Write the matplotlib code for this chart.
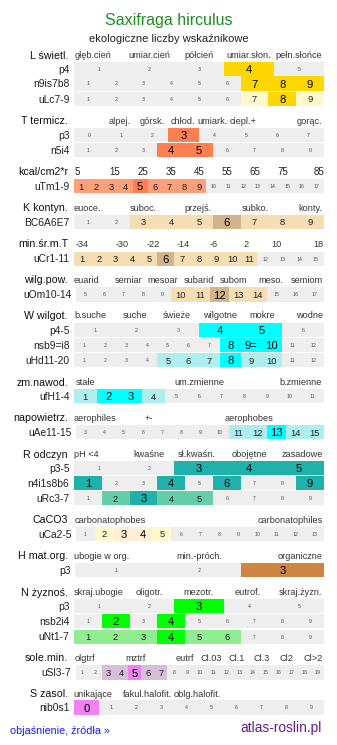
import matplotlib
matplotlib.use("Agg")
import matplotlib.pyplot as plt
import numpy as np

plt.rcParams['font.family'] = ['Liberation Sans', 'DejaVu Sans']

# ---------------- data ----------------
TITLE = "Saxifraga hirculus"
SUBTITLE = "ekologiczne liczby wskaźnikowe"

# section headers and their category labels
SECTIONS = ["L świetl.", "T termicz.", "kcal/cm2*r", "K kontyn.", "min.śr.m.T",
            "wilg.pow.", "W wilgot.", "zm.nawod.", "napowietrz.", "R odczyn",
            "CaCO3", "H mat.org.", "N żyznoś.", "sole.min.", "S zasol."]
CATS = [
    ["głęb.cień", "umiar.cień", "półcień", "umiar.słon.", "pełn.słońce"],
    ["alpej.", "górsk.", "chłod.", "umiark.", "ciepl.+", "gorąc."],
    ["5", "15", "25", "35", "45", "55", "65", "75", "85"],
    ["euoce.", "suboc.", "przejś.", "subko.", "konty."],
    ["-34", "-30", "-22", "-14", "-6", "2", "10", "18"],
    ["euarid", "semiar", "mesoar", "subarid", "subom", "meso.", "semiom"],
    ["b.suche", "suche", "świeże", "wilgotne", "mokre", "wodne"],
    ["stałe", "um.zmienne", "b.zmienne"],
    ["aerophiles", "+-", "aerophobes"],
    ["pH <4", "kwaśne", "sł.kwaśn.", "obojętne", "zasadowe"],
    ["carbonatophobes", "carbonatophiles"],
    ["ubogie w org.", "min.-próch.", "organiczne"],
    ["skraj.ubogie", "oligotr.", "mezotr.", "eutrof.", "skraj.żyzn."],
    ["olgtrf", "mztrf", "eutrf", "Cl.03", "Cl.1", "Cl.3", "Cl2", "Cl>2"],
    ["unikające", "fakul.halofit.", "oblg.halofit."],
]

# rows: section index, label, cell labels, highlighted cells {cell: level}
ROW_SECTION = [0, 0, 0, 1, 1, 2, 3, 4, 5, 6, 6, 6, 7, 8, 9, 9, 9, 10, 11, 12, 12, 12, 13, 14]
ROW_LABELS = ["p4", "n9is7b8", "uLc7-9", "p3", "n5i4", "uTm1-9", "BC6A6E7", "uCr1-11",
              "uOm10-14", "p4-5", "nsb9=i8", "uHd11-20", "ufH1-4", "uAe11-15",
              "p3-5", "n4i1s8b6", "uRc3-7", "uCa2-5", "p3", "p3", "nsb2i4", "uNt1-7",
              "uSl3-7", "nib0s1"]
r = lambda a, b: [str(i) for i in range(a, b + 1)]
ROW_CELLS = [r(1, 5), r(1, 9), r(1, 9), r(0, 7), r(1, 9), r(1, 17), r(1, 9), r(1, 15),
             r(5, 17), r(1, 6), r(1, 8) + ["9="] + r(10, 12), r(1, 12), r(1, 11), r(3, 15),
             r(1, 5), r(1, 9), r(1, 9), r(1, 13), r(1, 3), r(1, 5), r(1, 9), r(1, 9),
             r(1, 19), r(0, 9)]
ROW_HIGHLIGHT = [
    {"4": 2},
    {"7": 2, "8": 2, "9": 2},
    {"7": 1, "8": 2, "9": 1},
    {"3": 2},
    {"4": 2, "5": 2},
    {"1": 1, "2": 1, "3": 1, "4": 1, "5": 2, "6": 1, "7": 1, "8": 1, "9": 1},
    {"3": 1, "4": 1, "5": 1, "6": 2, "7": 1, "8": 1, "9": 1},
    {"1": 1, "2": 1, "3": 1, "4": 1, "5": 1, "6": 2, "7": 1, "8": 1, "9": 1, "10": 1, "11": 1},
    {"10": 1, "11": 1, "12": 2, "13": 1, "14": 1},
    {"4": 2, "5": 2},
    {"8": 2, "9=": 2, "10": 2},
    {"5": 1, "6": 1, "7": 1, "8": 2, "9": 1, "10": 1},
    {"1": 1, "2": 2, "3": 2, "4": 1},
    {"11": 1, "12": 1, "13": 2, "14": 1, "15": 1},
    {"3": 2, "4": 2, "5": 2},
    {"1": 2, "4": 2, "6": 2, "9": 2},
    {"2": 1, "3": 2, "4": 1, "5": 1},
    {"2": 1, "3": 2, "4": 2, "5": 1},
    {"3": 2},
    {"3": 2},
    {"2": 2, "4": 2},
    {"1": 1, "2": 1, "3": 1, "4": 2, "5": 1, "6": 1},
    {"3": 1, "4": 1, "5": 2, "6": 1, "7": 1},
    {"0": 2},
]

FOOT_LEFT = "objaśnienie, źródła »"
FOOT_RIGHT = "atlas-roslin.pl"

# ---------------- layout / style ----------------
SEC_COLORS = [("#FFFACD", "#FFD700"), ("#FFA07A", "#FF7F50"), ("#FFA07A", "#FF7F50"),
              ("#F5DEB3", "#D2B48C"), ("#F5DEB3", "#D2B48C"), ("#F5DEB3", "#D2B48C"),
              ("#AFEEEE", "#00FFFF"), ("#AFEEEE", "#00FFFF"), ("#AFEEEE", "#00FFFF"),
              ("#66CDAA", "#20B2AA"), ("#FFFACD", "#FFEFD5"), ("#DEB887", "#CD853F"),
              ("#90EE90", "#00FF00"), ("#D8BFD8", "#EE82EE"), ("#D8BFD8", "#EE82EE")]
SEC_Y = [55, 120.5, 171, 207.5, 243.5, 279.5, 315, 381.8, 417.2, 453.8, 519.2,
         555.2, 591.7, 657.2, 693.3]
CAT_X = [
    [93, 149, 199, 249, 299],
    [120, 152, 183, 213, 243, 309],
    [77, 115, 143, 171, 199, 227, 255, 283, 319],
    [87, 143, 198, 255, 310],
    [82, 122, 153, 183, 214, 246, 276, 318],
    [86, 129, 163, 199, 234, 271, 307],
    [90, 135, 177, 220, 262, 310],
    [85, 199, 301],
    [95, 149, 249],
    [86, 149, 197, 249, 302],
    [110, 290],
    [102, 199, 300],
    [99, 149, 198, 248, 300],
    [85, 136, 185, 211, 237, 262, 286, 313],
    [93, 148, 197],
]
ROW_Y = [69, 83.5, 99, 135.3, 150, 186.2, 222, 258.7, 294.5, 330, 345, 360.3, 396.3,
         432.2, 468, 483, 498.3, 533.8, 570, 606.3, 621.3, 636.7, 672.5, 707.5]
ROW_X0 = [74, 74, 74, 74, 74, 74, 74, 74, 76, 74, 74, 74, 74, 76, 74, 74, 74, 76, 75,
          74, 74, 74, 76, 74]
X1 = 324
BAR_H = 14.2
GREY = "#EEEEEE"

PX = 0.72  # points per pixel at dpi 100

fig = plt.figure(figsize=(3.37, 7.45), dpi=100)
ax = fig.add_axes([0, 0, 1, 1])
ax.set_xlim(0, 337)
ax.set_ylim(745, 0)
ax.axis("off")


def txt(x, yc, s, px, ha="center", color="black", **kw):
    # place text so that its cap height is centred on yc
    ax.text(x, yc + 0.36 * px, s, fontsize=px * PX, ha=ha, va="baseline", color=color, **kw)


# title
ax.text(168.5, 25, TITLE, fontsize=16 * PX, color="#228B22", ha="center", va="baseline")
ax.text(168.5, 41.5, SUBTITLE, fontsize=11.1 * PX, color="#222222", ha="center", va="baseline")

# section headers
for i, name in enumerate(SECTIONS):
    txt(68, SEC_Y[i], name, 10.6, ha="right", color="#111111")
    for lab, x in zip(CATS[i], CAT_X[i]):
        px = 9.8 if i == 2 else 9.2
        col = "#222222" if i == 2 else "#333333"
        txt(x, SEC_Y[i], lab, px, ha="center", color=col)

# rows
for k, label in enumerate(ROW_LABELS):
    sec = ROW_SECTION[k]
    cells = ROW_CELLS[k]
    hl = ROW_HIGHLIGHT[k]
    n = len(cells)
    x0 = ROW_X0[k]
    w = (X1 - x0) / n
    lefts = x0 + w * np.arange(n)
    levels = [hl.get(c, 0) for c in cells]
    colors = [GREY if lv == 0 else SEC_COLORS[sec][lv - 1] for lv in levels]
    y = ROW_Y[k]
    ax.barh([y] * n, [w] * n, left=lefts, height=BAR_H, color=colors,
            edgecolor="none", linewidth=0)
    txt(x0 - 4.5, y, label, 10.3, ha="right", color="#222222")
    for c, lv, lx in zip(cells, levels, lefts):
        if lv == 0:
            txt(lx + w / 2, y, c, 5.2, color="#555555")
        elif lv == 1:
            txt(lx + w / 2, y, c, 9.4, color="#222222")
        else:
            txt(lx + w / 2, y, c, 11.2, color="black")

# footer
ax.text(10, 734, FOOT_LEFT, fontsize=10.7 * PX, color="#1a1aff", ha="left", va="baseline")
ax.text(322, 732, FOOT_RIGHT, fontsize=13.8 * PX, color="#6A1B8A", ha="right", va="baseline")

fig.savefig("out.png", dpi=100)
